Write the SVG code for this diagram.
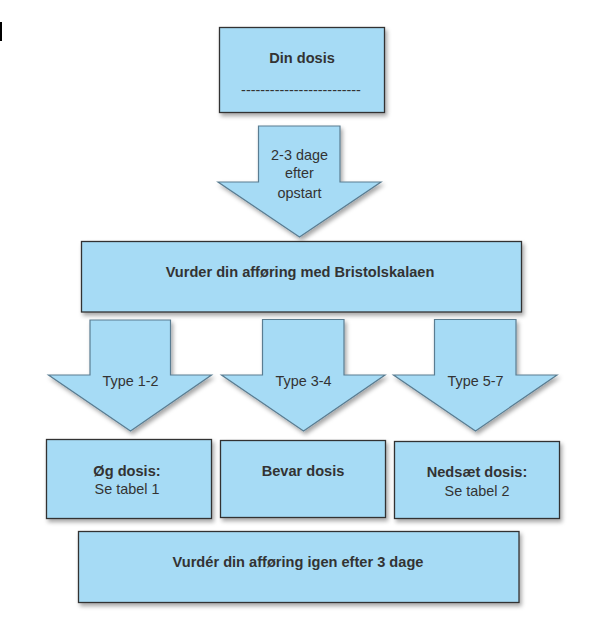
<svg xmlns="http://www.w3.org/2000/svg" width="594" height="618" viewBox="0 0 594 618">
<defs>
<filter id="sh" x="-10%" y="-10%" width="130%" height="140%">
<feDropShadow dx="2" dy="3" stdDeviation="2" flood-color="#000" flood-opacity="0.35"/>
</filter>
<style>
.box{fill:#a6dbf5;stroke:#333;stroke-width:1.3;filter:url(#sh)}
.arr{fill:#a6dbf5;stroke:#5a7d92;stroke-width:1.2;filter:url(#sh)}
text{font-family:"Liberation Sans",Arial,sans-serif;fill:#333;text-anchor:middle}
.b{font-weight:bold;font-size:14.6px}
.n{font-size:14.4px}
</style>
</defs>
<rect width="594" height="618" fill="#fff"/>
<rect x="0" y="22" width="2" height="19" fill="#000"/>
<g id="connectors">
<g id="arrow-top">
<polygon class="arr" points="258.5,126 340,126 340,182 381,182 299.5,237 218,182 258.5,182"/>
<text class="n" x="299.5" y="160">2-3 dage</text>
<text class="n" x="299.5" y="178">efter</text>
<text class="n" x="299.5" y="198">opstart</text>
</g>
<g id="arrow-1">
<polygon class="arr" points="90,320 170.5,320 170.5,375 211.5,375 130.5,431 48.5,375 90,375"/>
<text class="n" x="130.5" y="386">Type 1-2</text>
</g>
<g id="arrow-2">
<polygon class="arr" points="262.5,319.5 344,319.5 344,375 385,375 303.5,431 221.5,375 262.5,375"/>
<text class="n" x="303.5" y="385.5">Type 3-4</text>
</g>
<g id="arrow-3">
<polygon class="arr" points="434.5,319.5 516,319.5 516,375 557,375 475.5,431 393.5,375 434.5,375"/>
<text class="n" x="475.5" y="385.5">Type 5-7</text>
</g>
</g>
<g id="din-dosis">
<rect class="box" x="219.5" y="27.5" width="165" height="85"/>
<text class="b" x="302" y="63">Din dosis</text>
<text class="n" x="301" y="95">-------------------------</text>
</g>
<g id="vurder">
<rect class="box" x="81.5" y="241.5" width="440" height="70.5"/>
<text class="b" x="300" y="276.5">Vurder din afføring med Bristolskalaen</text>
</g>
<g id="og-dosis">
<rect class="box" x="46.5" y="439.5" width="165" height="79"/>
<text class="b" x="127" y="475.5">Øg dosis:</text>
<text class="n" x="127" y="494">Se tabel 1</text>
</g>
<g id="bevar-dosis">
<rect class="box" x="220.5" y="440.5" width="165" height="77"/>
<text class="b" x="303" y="475.5">Bevar dosis</text>
</g>
<g id="nedsaet-dosis">
<rect class="box" x="394.5" y="441.5" width="165" height="77"/>
<text class="b" x="477" y="476.5">Nedsæt dosis:</text>
<text class="n" x="477" y="495.5">Se tabel 2</text>
</g>
<g id="vurder-igen">
<rect class="box" x="78.5" y="531.5" width="440.5" height="71"/>
<text class="b" x="298" y="566.5">Vurdér din afføring igen efter 3 dage</text>
</g>
</svg>
